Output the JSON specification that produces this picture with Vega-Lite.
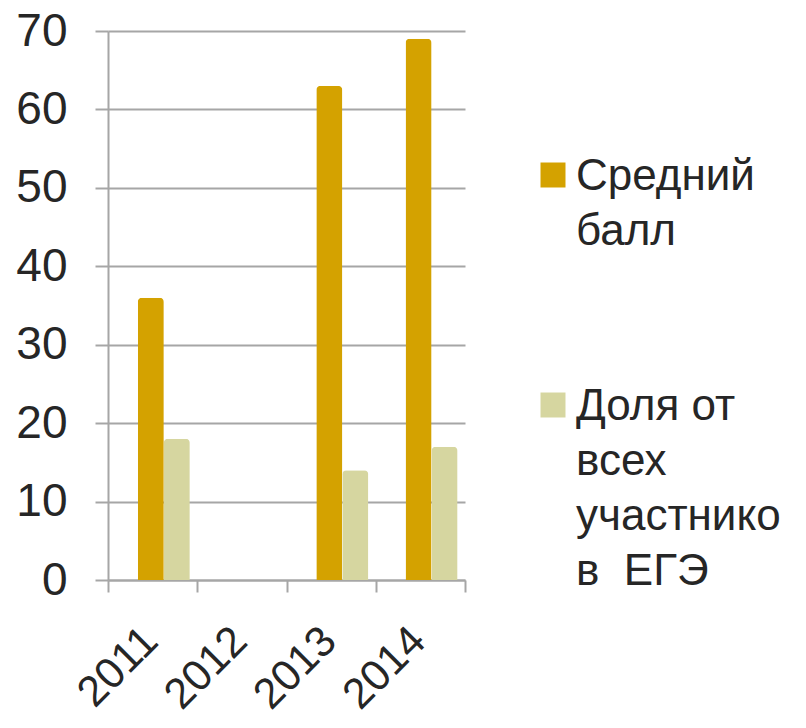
{
  "$schema": "https://vega.github.io/schema/vega-lite/v6.json",
  "autosize": {"type": "none"},
  "padding": {"left": 108, "top": 31, "right": 341, "bottom": 148},
  "width": 357,
  "height": 549,
  "background": "white",
  "config": {
    "view": {"stroke": null},
    "font": "Liberation Sans"
  },
  "data": {
    "values": [
      {"year": "2011", "series": "Средний балл", "value": 36},
      {"year": "2011", "series": "Доля от всех участников ЕГЭ", "value": 18},
      {"year": "2012", "series": "Средний балл", "value": 0},
      {"year": "2012", "series": "Доля от всех участников ЕГЭ", "value": 0},
      {"year": "2013", "series": "Средний балл", "value": 63},
      {"year": "2013", "series": "Доля от всех участников ЕГЭ", "value": 14},
      {"year": "2014", "series": "Средний балл", "value": 69},
      {"year": "2014", "series": "Доля от всех участников ЕГЭ", "value": 17}
    ]
  },
  "mark": {"type": "bar", "cornerRadiusTopLeft": 4, "cornerRadiusTopRight": 4},
  "encoding": {
    "x": {
      "field": "year",
      "type": "nominal",
      "scale": {"paddingInner": 0, "paddingOuter": 0},
      "axis": {
        "title": null,
        "labelAngle": -45,
        "labelFontSize": 43,
        "labelColor": "#262626",
        "labelPadding": 27,
        "labelOffset": -17,
        "tickBand": "extent",
        "tickSize": 12,
        "tickColor": "#A6A6A6",
        "domainColor": "#A6A6A6",
        "domainWidth": 2,
        "tickWidth": 2,
        "grid": false
      }
    },
    "xOffset": {
      "field": "series",
      "type": "nominal",
      "sort": ["Средний балл", "Доля от всех участников ЕГЭ"],
      "scale": {"paddingInner": 0, "paddingOuter": 0.716, "align": 0.8}
    },
    "y": {
      "field": "value",
      "type": "quantitative",
      "scale": {"domain": [0, 70]},
      "axis": {
        "title": null,
        "values": [0, 10, 20, 30, 40, 50, 60, 70],
        "labelFontSize": 46,
        "labelColor": "#262626",
        "labelPadding": 28,
        "tickSize": 13,
        "tickColor": "#A6A6A6",
        "tickWidth": 2,
        "domainColor": "#A6A6A6",
        "domainWidth": 2,
        "gridColor": "#A6A6A6",
        "gridWidth": 2
      }
    },
    "color": {
      "field": "series",
      "type": "nominal",
      "sort": ["Средний балл", "Доля от всех участников ЕГЭ"],
      "scale": {
        "domain": ["Средний балл", "Доля от всех участников ЕГЭ"],
        "range": ["#D4A200", "#D6D6A0"]
      },
      "legend": {
        "title": null,
        "orient": "none",
        "legendX": 423,
        "legendY": 122,
        "symbolType": "square",
        "symbolSize": 625,
        "symbolStrokeWidth": 0,
        "labelFontSize": 44,
        "labelColor": "#262626",
        "labelLimit": 400,
        "labelOffset": 1,
        "rowPadding": 129,
        "labelExpr": "datum.label == 'Средний балл' ? ['Средний', 'балл'] : ['Доля от', 'всех', 'участнико', 'в\u00a0\u00a0ЕГЭ']",
        "encode": {
          "labels": {"update": {"lineHeight": {"value": 55}, "dy": {"value": 2}}}
        }
      }
    }
  }
}
